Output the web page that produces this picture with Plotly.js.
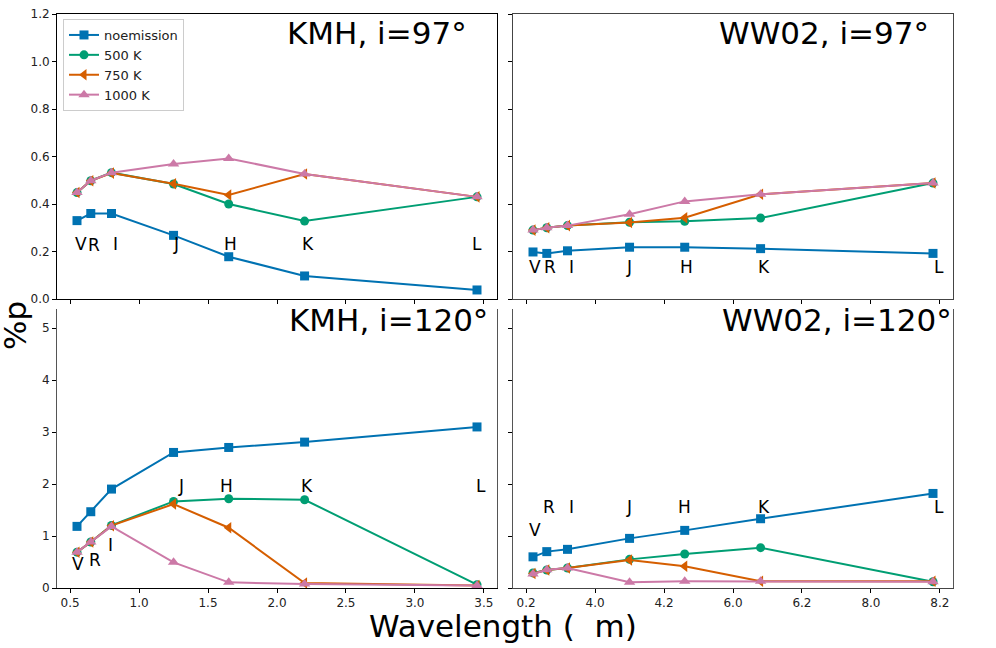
<!DOCTYPE html>
<html>
<head>
<meta charset="utf-8">
<script src="https://cdn.plot.ly/plotly-3.0.1.min.js"></script>
<style>
  body { margin: 0; background: #fff; }
  #chart { width: 996px; height: 648px; }
</style>
</head>
<body>
<div id="chart"></div>
<script>
const bands = ['V', 'R', 'I', 'J', 'H', 'K', 'L'];
const wavelength = [0.55, 0.65, 0.8, 1.25, 1.65, 2.2, 3.45];
const seriesNames = ['noemission', '500 K', '750 K', '1000 K'];
const rightTickText = ['0.2', '4.0', '4.2', '6.0', '6.2', '8.0', '8.2'];

// KMH, i=97
const kmh97NoEm = [0.33, 0.36, 0.36, 0.268, 0.178, 0.097, 0.038];
const kmh97T500 = [0.448, 0.498, 0.532, 0.484, 0.40, 0.328, 0.43];
const kmh97T750 = [0.448, 0.498, 0.53, 0.485, 0.438, 0.526, 0.43];
const kmh97T1000 = [0.448, 0.498, 0.532, 0.568, 0.592, 0.526, 0.43];

// WW02, i=97
const ww97NoEm = [0.198, 0.192, 0.203, 0.218, 0.218, 0.212, 0.192];
const ww97T500 = [0.29, 0.30, 0.309, 0.323, 0.327, 0.341, 0.488];
const ww97T750 = [0.29, 0.30, 0.309, 0.322, 0.342, 0.441, 0.488];
const ww97T1000 = [0.29, 0.30, 0.309, 0.357, 0.411, 0.441, 0.488];

// KMH, i=120
const kmh120NoEm = [1.186, 1.468, 1.904, 2.609, 2.705, 2.808, 3.10];
const kmh120T500 = [0.69, 0.885, 1.205, 1.667, 1.718, 1.699, 0.064];
const kmh120T750 = [0.69, 0.885, 1.2, 1.615, 1.16, 0.096, 0.05];
const kmh120T1000 = [0.69, 0.885, 1.186, 0.494, 0.109, 0.077, 0.05];

// WW02, i=120
const ww120NoEm = [0.60, 0.70, 0.744, 0.955, 1.109, 1.333, 1.82];
const ww120T500 = [0.29, 0.346, 0.385, 0.551, 0.654, 0.776, 0.12];
const ww120T750 = [0.28, 0.346, 0.385, 0.538, 0.417, 0.128, 0.128];
const ww120T1000 = [0.27, 0.35, 0.385, 0.109, 0.128, 0.128, 0.12];

// band label positions (text placed by hand in the original)
const kmh97LabelX = [0.52, 0.618, 0.795, 1.23, 1.60, 2.165, 3.40];
const kmh97LabelY = [0.232, 0.226, 0.232, 0.232, 0.232, 0.232, 0.232];
const ww97LabelX = [0.51, 0.615, 0.793, 1.21, 1.598, 2.17, 3.445];
const ww97LabelY = [0.135, 0.135, 0.135, 0.135, 0.135, 0.135, 0.135];
const kmh120LabelX = [0.50, 0.625, 0.76, 1.265, 1.57, 2.16, 3.43];
const kmh120LabelY = [0.46, 0.54, 0.83, 1.96, 1.96, 1.96, 1.96];
const ww120LabelX = [0.507, 0.61, 0.793, 1.21, 1.59, 2.165, 3.44];
const ww120LabelY = [1.115, 1.56, 1.56, 1.56, 1.56, 1.56, 1.56];

const colors = ['#0072B2', '#009E73', '#D55E00', '#CC79A7'];
const symbols = ['square', 'circle', 'triangle-left', 'triangle-up'];
const markerSizes = [9, 9, 10, 10];

const panels = [
  { series: [kmh97NoEm, kmh97T500, kmh97T750, kmh97T1000], xa: 'x', ya: 'y',
    lx: kmh97LabelX, ly: kmh97LabelY, legend: true },
  { series: [ww97NoEm, ww97T500, ww97T750, ww97T1000], xa: 'x2', ya: 'y2',
    lx: ww97LabelX, ly: ww97LabelY, legend: false },
  { series: [kmh120NoEm, kmh120T500, kmh120T750, kmh120T1000], xa: 'x3', ya: 'y3',
    lx: kmh120LabelX, ly: kmh120LabelY, legend: false },
  { series: [ww120NoEm, ww120T500, ww120T750, ww120T1000], xa: 'x4', ya: 'y4',
    lx: ww120LabelX, ly: ww120LabelY, legend: false },
];

const traces = [];
const annotations = [];
panels.forEach((p) => {
  p.series.forEach((vals, i) => {
    traces.push({
      x: wavelength,
      y: vals,
      xaxis: p.xa,
      yaxis: p.ya,
      name: seriesNames[i],
      type: 'scatter',
      mode: 'lines+markers',
      showlegend: p.legend,
      line: { color: colors[i], width: 2 },
      marker: { symbol: symbols[i], size: markerSizes[i], color: colors[i] },
    });
  });
  bands.forEach((b, i) => {
    annotations.push({
      text: b, xref: p.xa, yref: p.ya, x: p.lx[i], y: p.ly[i],
      xanchor: 'left', yanchor: 'middle', showarrow: false,
      font: { size: 17, color: '#000' },
    });
  });
});

// panel titles
const titleText = ['KMH, i=97°', 'WW02, i=97°', 'KMH, i=120°', 'WW02, i=120°'];
const titleX = [469, 931, 490, 954];
const titleY = [33, 33, 320, 320];
titleText.forEach((t, i) => {
  annotations.push({
    text: t, xref: 'paper', yref: 'paper',
    x: titleX[i] / 996, y: 1 - titleY[i] / 648,
    xanchor: 'right', yanchor: 'middle', showarrow: false,
    font: { size: 31, color: '#000' },
  });
});

annotations.push({
  text: 'Wavelength (\u00a0\u00a0m)', xref: 'paper', yref: 'paper',
  x: 503 / 996, y: 1 - 626 / 648, xanchor: 'center', yanchor: 'middle',
  showarrow: false, font: { size: 31, color: '#000' },
});
annotations.push({
  text: '%p', xref: 'paper', yref: 'paper', textangle: -90,
  x: 15 / 996, y: 1 - 326 / 648, xanchor: 'center', yanchor: 'middle',
  showarrow: false, font: { size: 31, color: '#000' },
});

const leftDom = [57 / 996, 497 / 996];
const rightDom = [513 / 996, 953 / 996];
const topDom = [1 - 299 / 648, 1 - 14 / 648];
const botDom = [1 - 588 / 648, 1 - 309 / 648];
const xr = [0.405, 3.595];
const xticks = [0.5, 1.0, 1.5, 2.0, 2.5, 3.0, 3.5];

function xAxis(dom, anchor, showLabels, lineColor, mirror, ticktext) {
  const ax = {
    domain: dom, anchor: anchor, range: xr, tickvals: xticks,
    tickformat: '.1f', showticklabels: showLabels, ticks: 'outside',
    ticklen: 4, tickcolor: '#000', showline: true, linecolor: lineColor,
    linewidth: 1, mirror: mirror, showgrid: false, zeroline: false,
    tickfont: { size: 12, color: '#222' },
  };
  if (ticktext) ax.ticktext = ticktext;
  return ax;
}

function yAxis(dom, anchor, range, vals, fmt, showLabels, lineColor) {
  return {
    domain: dom, anchor: anchor, range: range, tickvals: vals,
    tickformat: fmt, showticklabels: showLabels, ticks: 'outside',
    ticklen: 4, tickcolor: '#000', showline: true, linecolor: lineColor,
    linewidth: 1, mirror: true, showgrid: false, zeroline: false,
    tickfont: { size: 12, color: '#222' },
  };
}

const topTicks = [0, 0.2, 0.4, 0.6, 0.8, 1.0, 1.2];
const botTicks = [0, 1, 2, 3, 4, 5];

const layout = {
  width: 996,
  height: 648,
  margin: { l: 0, r: 0, t: 0, b: 0 },
  paper_bgcolor: '#fff',
  plot_bgcolor: 'rgba(0,0,0,0)',
  font: { family: 'DejaVu Sans', color: '#000' },
  xaxis: xAxis(leftDom, 'y', false, '#000', true),
  yaxis: yAxis(topDom, 'x', [0, 1.2], topTicks, '.1f', true, '#000'),
  xaxis2: xAxis(rightDom, 'y2', false, '#444', true),
  yaxis2: yAxis(topDom, 'x2', [0, 1.2], topTicks, '.1f', false, '#444'),
  xaxis3: xAxis(leftDom, 'y3', true, '#000', false),
  yaxis3: yAxis(botDom, 'x3', [0, 5.37], botTicks, 'd', true, '#555'),
  xaxis4: xAxis(rightDom, 'y4', true, '#444', false, rightTickText),
  yaxis4: yAxis(botDom, 'x4', [0, 5.37], botTicks, 'd', false, '#555'),
  showlegend: true,
  legend: {
    x: 63 / 996, y: 1 - 19 / 648, xanchor: 'left', yanchor: 'top',
    bgcolor: '#fff', bordercolor: '#ccc', borderwidth: 1,
    font: { size: 13, color: '#222' },
  },
  annotations: annotations,
};

Plotly.newPlot('chart', traces, layout, { displayModeBar: false, staticPlot: true });
</script>
</body>
</html>
